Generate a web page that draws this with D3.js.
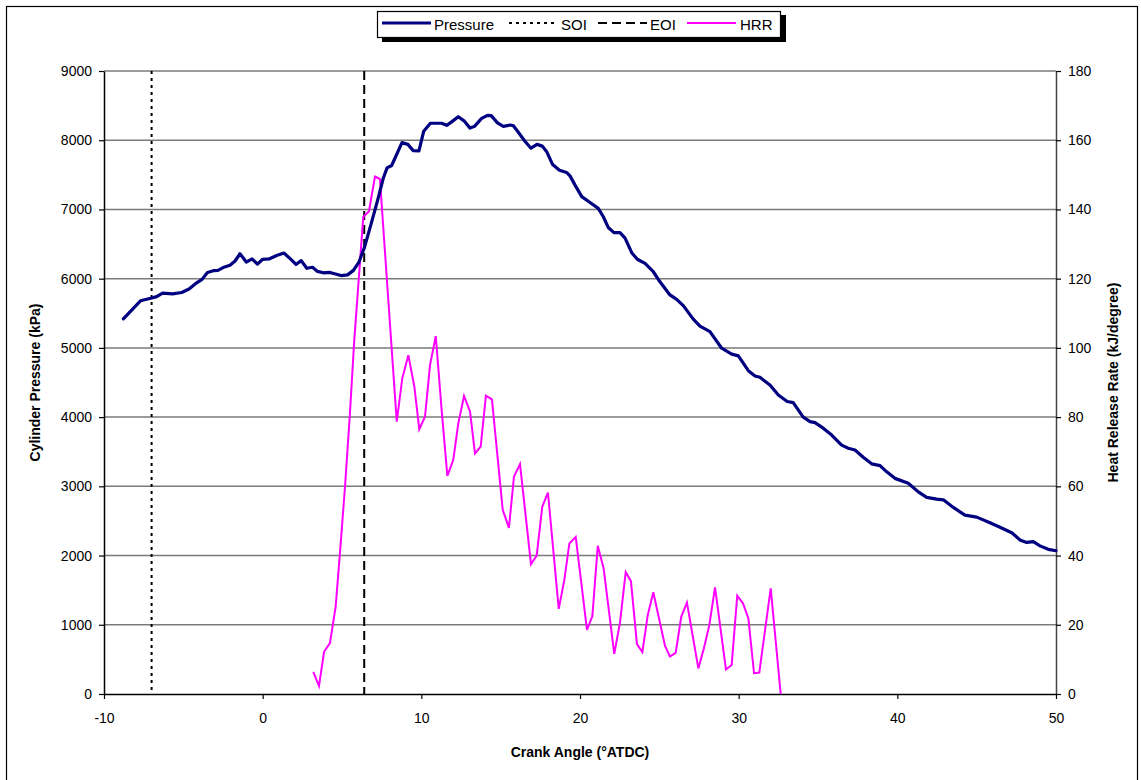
<!DOCTYPE html>
<html>
<head>
<meta charset="utf-8">
<script src="https://cdn.jsdelivr.net/npm/d3@7"></script>
<style>
  html, body { margin: 0; padding: 0; background: #fff; }
  svg { display: block; font-family: "Liberation Sans", Arial, sans-serif; }
</style>
</head>
<body>
<svg id="chart" width="1141" height="780"></svg>
<script>
// Crank angle (°ATDC) and cylinder pressure (kPa)
const pressureAngle = [-8.78,-7.70,-6.99,-6.68,-6.31,-5.68,-5.10,-4.64,-4.16,-3.82,-3.48,-3.11,-2.82,-2.40,-2.06,-1.74,-1.43,-1.03,-0.67,-0.33,0.00,0.40,0.88,1.34,1.75,2.10,2.43,2.78,3.14,3.46,3.82,4.24,4.94,5.35,5.72,6.07,6.42,6.87,7.23,7.60,7.84,8.13,8.78,9.15,9.49,9.85,10.15,10.57,10.99,11.27,11.60,11.91,12.33,12.69,13.07,13.35,13.80,14.17,14.40,14.80,15.17,15.61,15.80,16.03,16.53,16.91,17.29,17.62,17.90,18.27,18.71,19.15,19.37,19.68,20.11,20.63,21.15,21.47,21.78,22.14,22.52,22.84,23.26,23.61,24.10,24.62,25.04,25.67,26.09,26.51,27.14,27.56,28.19,28.93,29.56,29.98,30.61,31.03,31.34,31.97,32.50,33.06,33.44,34.07,34.50,34.81,35.33,35.86,36.49,36.91,37.33,37.85,38.38,38.91,39.33,39.85,40.69,41.32,41.85,42.48,42.90,43.53,44.26,45.00,45.84,46.47,47.21,47.73,48.15,48.57,48.99,49.51,50.00];
const pressure = [5420,5680,5720,5740,5790,5780,5800,5850,5940,5990,6090,6115,6120,6170,6195,6255,6360,6240,6285,6210,6280,6285,6335,6370,6285,6205,6260,6150,6165,6105,6085,6090,6045,6055,6120,6240,6455,6820,7120,7450,7600,7635,7965,7940,7850,7845,8130,8245,8245,8245,8215,8265,8340,8280,8175,8200,8315,8360,8355,8250,8200,8220,8210,8140,7985,7885,7940,7915,7835,7650,7565,7535,7485,7355,7185,7100,7015,6895,6740,6665,6665,6585,6375,6280,6220,6100,5955,5765,5700,5610,5415,5315,5235,4995,4910,4885,4670,4595,4575,4465,4320,4225,4210,4000,3935,3920,3840,3740,3595,3550,3525,3420,3325,3300,3210,3115,3045,2920,2840,2815,2805,2695,2585,2555,2475,2410,2330,2225,2190,2200,2140,2090,2070];

// Crank angle (°ATDC) and heat release rate (kJ/degree)
const hrrAngle = [3.19,3.55,3.87,4.24,4.60,4.87,5.19,5.50,5.76,6.34,6.70,7.08,7.39,8.45,8.80,9.18,9.56,9.87,10.23,10.55,10.91,11.28,11.64,12.01,12.33,12.69,13.07,13.38,13.74,14.07,14.45,15.13,15.52,15.84,16.22,16.91,17.27,17.62,17.98,18.66,19.01,19.33,19.73,20.44,20.78,21.12,21.49,22.16,22.52,22.88,23.21,23.59,23.93,24.27,24.62,25.36,25.67,26.03,26.38,26.74,27.46,27.81,28.15,28.51,29.20,29.56,29.91,30.27,30.61,30.97,31.30,32.02,32.65];
const hrr = [6.4,2.3,12.2,14.7,25.2,40.7,59.9,81.1,101.3,137.8,139.5,149.5,148.8,78.7,91.2,97.9,88.8,76.5,80.1,95.1,103.4,82.1,63.0,67.6,78.2,86.1,81.6,69.5,71.5,86.2,85.1,53.2,48.0,62.8,66.4,37.5,40.0,54.1,58.2,24.6,32.9,43.5,45.4,18.5,22.5,42.8,36.3,11.6,20.6,35.2,32.6,14.4,12.1,22.8,29.4,13.9,10.8,11.9,22.3,26.4,7.4,13.2,19.9,30.8,7.1,8.4,28.4,26.2,21.9,6.0,6.2,30.5,0];

// Start and end of injection (°ATDC)
const soiAngle = -7;
const eoiAngle = 6.4;

// Axis ticks
const angleTicks = [-10, 0, 10, 20, 30, 40, 50];
const pressureTicks = [0, 1000, 2000, 3000, 4000, 5000, 6000, 7000, 8000, 9000];
const hrrTicks = [0, 20, 40, 60, 80, 100, 120, 140, 160, 180];

const legendItems = [
  { label: "Pressure", color: "#000080", width: 3, dash: null },
  { label: "SOI", color: "#000000", width: 2, dash: "3,4" },
  { label: "EOI", color: "#000000", width: 2, dash: "9,5" },
  { label: "HRR", color: "#ff00ff", width: 2, dash: null }
];

const svg = d3.select("#chart");
const plot = { left: 104, right: 1056, top: 71, bottom: 694 };

const x = d3.scaleLinear().domain([-10, 50]).range([plot.left, plot.right]);
const yP = d3.scaleLinear().domain([0, 9000]).range([plot.bottom, plot.top]);
const yH = d3.scaleLinear().domain([0, 180]).range([plot.bottom, plot.top]);

// Plain number labels with an ASCII hyphen for negatives
const plain = d => String(d);

// Outer chart frame
svg.append("rect")
  .attr("x", 6.5).attr("y", 6.5)
  .attr("width", 1131).attr("height", 790)
  .attr("fill", "#fff").attr("stroke", "#000").attr("stroke-width", 1.2);

// Horizontal gridlines
svg.append("g")
  .selectAll("line")
  .data(pressureTicks.filter(d => d > 0))
  .join("line")
  .attr("x1", plot.left).attr("x2", plot.right)
  .attr("y1", d => yP(d)).attr("y2", d => yP(d))
  .attr("stroke", "#7a7a7a").attr("stroke-width", 1.5);

// Axes
const fontSize = "14px";
const leftAxis = svg.append("g")
  .attr("transform", `translate(${plot.left},0)`)
  .call(d3.axisLeft(yP).tickValues(pressureTicks).tickFormat(plain).tickSize(5).tickSizeOuter(0).tickPadding(7));
const rightAxis = svg.append("g")
  .attr("transform", `translate(${plot.right},0)`)
  .call(d3.axisRight(yH).tickValues(hrrTicks).tickFormat(plain).tickSize(5).tickSizeOuter(0).tickPadding(7));
const bottomAxis = svg.append("g")
  .attr("transform", `translate(0,${plot.bottom})`)
  .call(d3.axisBottom(x).tickValues(angleTicks).tickFormat(plain).tickSize(5).tickSizeOuter(0).tickPadding(14));

[leftAxis, rightAxis, bottomAxis].forEach(g => {
  g.selectAll("text").attr("font-size", fontSize).attr("fill", "#000")
    .attr("font-family", "Liberation Sans, Arial, sans-serif");
  g.selectAll("line").attr("stroke", "#000").attr("stroke-width", 1.2);
  g.select(".domain").attr("stroke", "#000").attr("stroke-width", 1.5);
});
rightAxis.select(".domain").attr("stroke", "#444");

// Axis titles
svg.append("text")
  .attr("transform", `translate(40,${(plot.top + plot.bottom) / 2}) rotate(-90)`)
  .attr("text-anchor", "middle")
  .attr("font-size", "14px").attr("font-weight", "bold")
  .text("Cylinder Pressure (kPa)");
svg.append("text")
  .attr("transform", `translate(1118,${(plot.top + plot.bottom) / 2}) rotate(-90)`)
  .attr("text-anchor", "middle")
  .attr("font-size", "14px").attr("font-weight", "bold")
  .text("Heat Release Rate (kJ/degree)");
svg.append("text")
  .attr("x", (plot.left + plot.right) / 2).attr("y", 757)
  .attr("text-anchor", "middle")
  .attr("font-size", "14px").attr("font-weight", "bold")
  .text("Crank Angle (°ATDC)");

// Injection markers
svg.append("line")
  .attr("x1", x(soiAngle)).attr("x2", x(soiAngle))
  .attr("y1", plot.top).attr("y2", plot.bottom)
  .attr("stroke", "#000").attr("stroke-width", 2).attr("stroke-dasharray", "3,4");
svg.append("line")
  .attr("x1", x(eoiAngle)).attr("x2", x(eoiAngle))
  .attr("y1", plot.top).attr("y2", plot.bottom)
  .attr("stroke", "#000").attr("stroke-width", 2).attr("stroke-dasharray", "9,5");

// Heat release rate
const hrrLine = d3.line().x(d => x(d[0])).y(d => yH(d[1]));
svg.append("path")
  .datum(d3.zip(hrrAngle, hrr))
  .attr("d", hrrLine)
  .attr("fill", "none").attr("stroke", "#ff00ff").attr("stroke-width", 2)
  .attr("stroke-linejoin", "miter");

// Cylinder pressure
const pLine = d3.line().x(d => x(d[0])).y(d => yP(d[1]));
svg.append("path")
  .datum(d3.zip(pressureAngle, pressure))
  .attr("d", pLine)
  .attr("fill", "none").attr("stroke", "#000080").attr("stroke-width", 3.2)
  .attr("stroke-linejoin", "round").attr("stroke-linecap", "round");

// Legend box with drop shadow
const legend = svg.append("g");
legend.append("rect").attr("x", 382).attr("y", 15).attr("width", 404).attr("height", 27).attr("fill", "#000");
legend.append("rect").attr("x", 377.5).attr("y", 11.5).attr("width", 403).attr("height", 26)
  .attr("fill", "#fff").attr("stroke", "#000").attr("stroke-width", 1.2);
const itemX = [382, 509, 598, 687];
const textX = [434, 561, 650, 740];
legendItems.forEach((it, i) => {
  legend.append("line")
    .attr("x1", itemX[i]).attr("x2", itemX[i] + 49)
    .attr("y1", 23).attr("y2", 23)
    .attr("stroke", it.color).attr("stroke-width", it.width)
    .attr("stroke-dasharray", it.dash);
  legend.append("text")
    .attr("x", textX[i]).attr("y", 30)
    .attr("font-size", "15px")
    .text(it.label);
});
</script>
</body>
</html>
